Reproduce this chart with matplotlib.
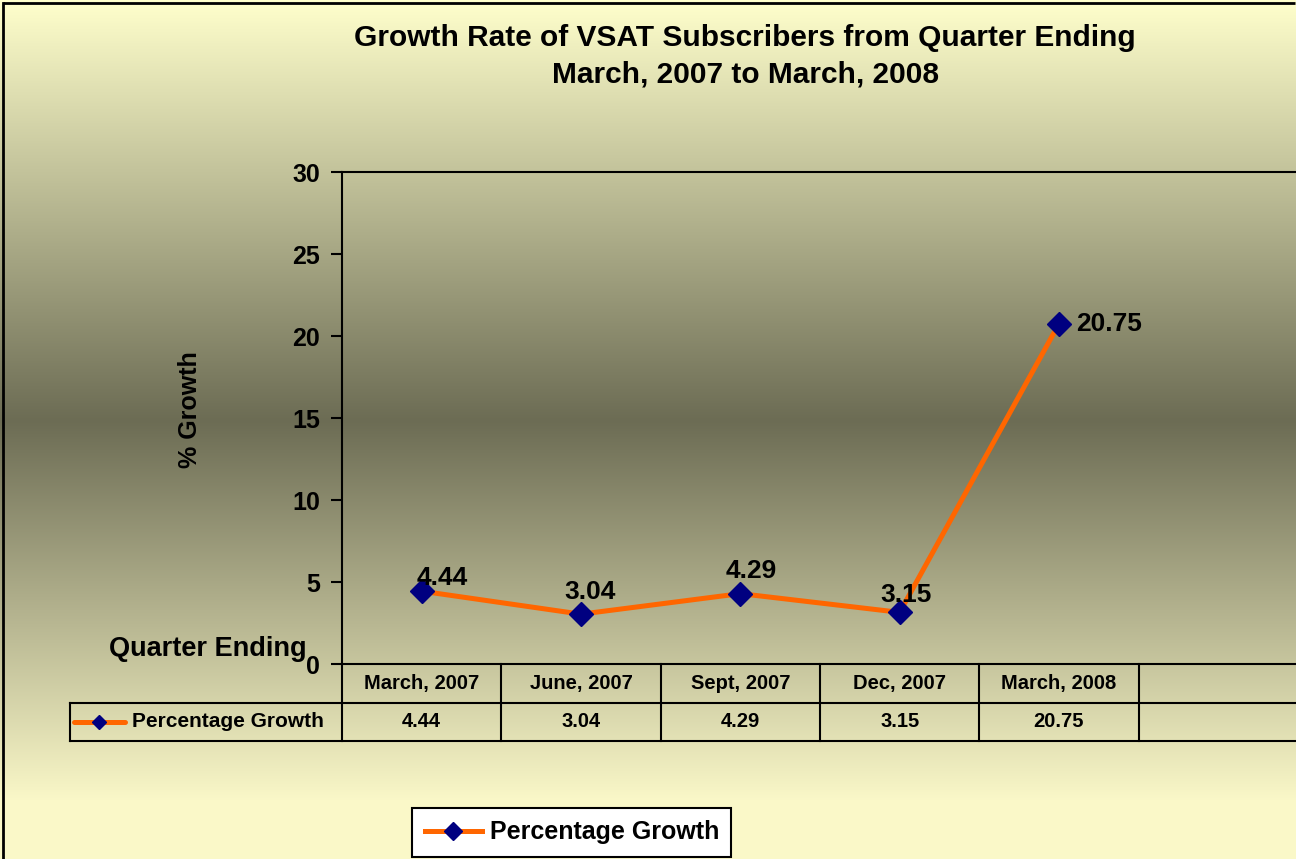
import numpy as np
import matplotlib.pyplot as plt
from matplotlib.lines import Line2D

# ---- data ----
quarters = ["March, 2007", "June, 2007", "Sept, 2007", "Dec, 2007", "March, 2008"]
growth = [4.44, 3.04, 4.29, 3.15, 20.75]
series_name = "Percentage Growth"
yticks = [0, 5, 10, 15, 20, 25, 30]
# label offsets (pixels) from each point
label_dx = [21, 9, 11, 6, 17]
label_dy = [13, 22, 23, 17, 0]
label_ha = ["center", "center", "center", "center", "left"]

plt.rcParams["font.family"] = ["Liberation Sans", "DejaVu Sans"]
plt.rcParams["font.weight"] = "bold"

W, H = 1296, 859
fig = plt.figure(figsize=(W / 100, H / 100), dpi=100)

# ---- background gradient: light yellow -> olive grey -> light yellow ----
light_top = np.array([255, 255, 204]) / 255
light_bot = np.array([250, 248, 200]) / 255
dark = np.array([108, 108, 84]) / 255
centre = 420
col = np.zeros((H, 3))
for r in range(H):
    if r < centre:
        t = r / centre
        col[r] = light_top + (dark - light_top) * t
    else:
        t = min((r - centre) / 380, 1)
        col[r] = dark + (light_bot - dark) * t
grad = np.repeat(col[:, None, :], W, axis=1)
fig.figimage(grad, xo=0, yo=0, origin="upper", zorder=-10)

# chart border (left and top edges)
fig.add_artist(Line2D([3 / W, 3 / W], [0, 1 - 3 / H], color="black", lw=2, transform=fig.transFigure))
fig.add_artist(Line2D([3 / W, (W - 1) / W], [1 - 3 / H, 1 - 3 / H], color="black", lw=2,
                      solid_capstyle="butt", transform=fig.transFigure))

# ---- plot area ----
unit = 159.33  # pixels per category
ax = fig.add_axes([342 / W, 1 - 664 / H, 6 * unit / W, 492 / H])
ax.set_facecolor("none")
x = np.arange(len(quarters))
line, = ax.plot(x, growth, color="#FF6600", lw=3.6, marker="D", ms=12,
                mfc="#000080", mec="#000080", clip_on=False, label=series_name)
ax.set_xlim(-0.5, 5.5)
ax.set_ylim(0, 30)
ax.set_xticks([])
ax.set_yticks(yticks)
ax.tick_params(axis="y", direction="out", length=8, width=1.5, pad=8, labelsize=18)
for lbl in ax.get_yticklabels():
    lbl.set_fontweight("bold")
ax.spines["right"].set_visible(False)
for s in ["left", "top", "bottom"]:
    ax.spines[s].set_linewidth(1.5)

for i, v in enumerate(growth):
    ax.annotate(f"{v:.2f}", (x[i], v), xytext=(label_dx[i], label_dy[i]),
                textcoords="offset pixels", ha=label_ha[i], va="center",
                fontsize=19, fontweight="bold", zorder=5)

fig.text(190 / W, 1 - 410 / H, "% Growth", rotation=90, ha="center", va="center",
         fontsize=18, fontweight="bold")
fig.text(208 / W, 1 - 649 / H, "Quarter Ending", ha="center", va="center",
         fontsize=19.5, fontweight="bold")

fig.suptitle("Growth Rate of VSAT Subscribers from Quarter Ending\nMarch, 2007 to March, 2008",
             x=745 / W, y=1 - 24 / H, va="top", fontsize=21.5, fontweight="bold",
             linespacing=1.4)

# ---- data table under the plot ----
table_left = 70
x0 = -0.5 - (342 - table_left) / unit
tax = fig.add_axes([table_left / W, 1 - 741 / H, (342 + 6 * unit - table_left) / W, 77 / H])
tax.set_facecolor("none")
tax.set_xlim(x0, 5.5)
tax.set_ylim(0, 2)
tax.axis("off")


def px2x(px):
    return x0 + (px - table_left) / unit


lw_t = 1.5
tax.plot([x0, 5.5], [0, 0], color="black", lw=lw_t, clip_on=False)
tax.plot([x0, 5.5], [1, 1], color="black", lw=lw_t, clip_on=False)
tax.plot([x0, x0], [0, 1], color="black", lw=lw_t, clip_on=False)
for k in range(-1, 5):
    tax.plot([k + 0.5, k + 0.5], [0, 2], color="black", lw=lw_t, clip_on=False)
for i, q in enumerate(quarters):
    tax.text(i, 1.5, q, ha="center", va="center", fontsize=14.5, fontweight="bold")
    tax.text(i, 0.5, f"{growth[i]:.2f}", ha="center", va="center", fontsize=14.5, fontweight="bold")
tax.plot([px2x(74), px2x(125)], [0.5, 0.5], color="#FF6600", lw=3.6, solid_capstyle="round")
tax.plot([px2x(99)], [0.5], marker="D", ms=7, color="#000080")
tax.text(px2x(132), 0.5, series_name, ha="left", va="center", fontsize=15, fontweight="bold")

# ---- legend ----
leg = ax.legend(handles=[line], loc="upper left", bbox_to_anchor=(412 / W, 1 - 808 / H),
                bbox_transform=fig.transFigure, frameon=True, fancybox=False,
                edgecolor="black", framealpha=1, borderaxespad=0, borderpad=0.5,
                handlelength=2.3, handletextpad=0.3, prop={"size": 18, "weight": "bold"})
leg.get_frame().set_linewidth(1.5)
leg.legend_handles[0].set_markersize(9)

fig.savefig("out.png", dpi=100)
